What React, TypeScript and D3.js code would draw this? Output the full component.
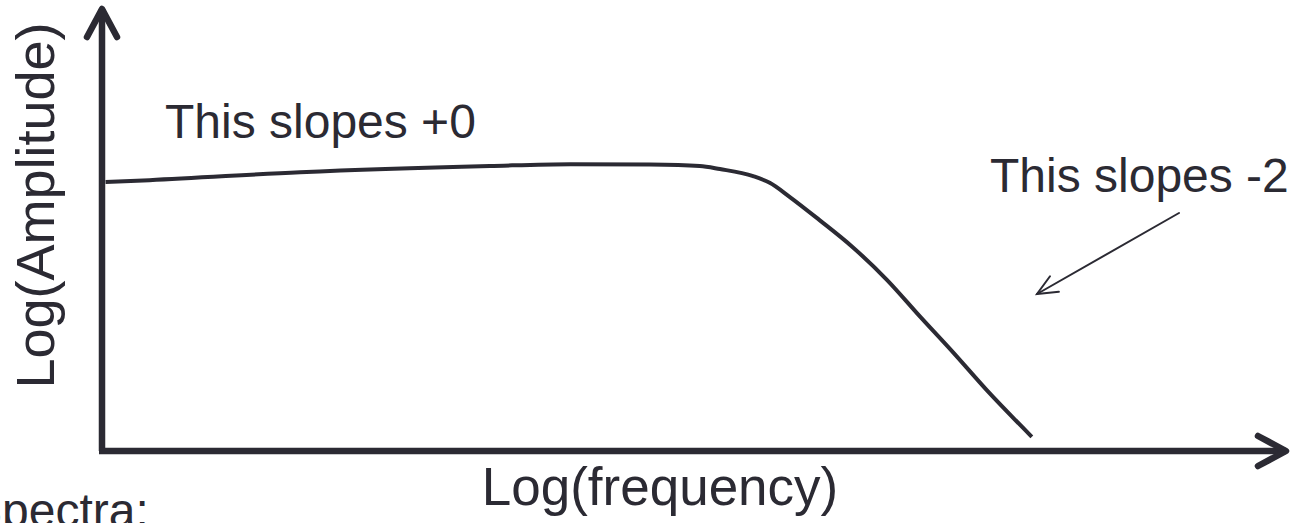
import React from 'react';
import * as d3 from 'd3';

const width = 1300;
const height = 523;
const ink = '#2b2a33';
const font = 'Liberation Sans, Arial, sans-serif';

// spectrum sketch, in log units (x: log frequency, y: log amplitude)
const logFreq = [0.03, 0.4, 1.67, 3.27, 3.95, 4.62, 5.04, 5.21, 5.49, 5.63, 5.8, 6.05, 6.33, 6.62, 6.9, 7.18, 7.46, 7.84];
const logAmp = [6.06, 6.1, 6.28, 6.42, 6.46, 6.45, 6.42, 6.35, 6.19, 6.04, 5.72, 5.2, 4.59, 3.85, 3.02, 2.21, 1.37, 0.32];

const xLabel = 'Log(frequency)';
const yLabel = 'Log(Amplitude)';
const flatNote = 'This slopes +0';
const steepNote = 'This slopes -2';
const cutNote = 'Spectra:';

const xScale = d3.scaleLinear().domain([0, 10]).range([102, 1288]);
const yScale = d3.scaleLinear().domain([0, 10]).range([451, 7]);

const line = d3
  .line<number>()
  .x((d, i) => xScale(logFreq[i]))
  .y(d => yScale(d))
  .curve(d3.curveMonotoneX);

export default function App() {
  const x0 = xScale(0);
  const y0 = yScale(0);
  const xEnd = xScale(10);
  const yEnd = yScale(10);

  // note arrow pointing at the steep part
  const ax1 = 1179, ay1 = 213, ax2 = 1037, ay2 = 294;
  const ang = Math.atan2(ay1 - ay2, ax1 - ax2);
  const head = 22;
  const spread = 0.42;

  return (
    <div style={{ position: 'fixed', left: 0, top: 0 }}>
      <svg width={width} height={height} style={{ display: 'block', background: '#fff' }}>
        {/* axes */}
        <g stroke={ink} strokeWidth={6.5} fill="none" strokeLinecap="round" strokeLinejoin="round">
          <path d={`M${x0},${y0}L${x0},${yEnd + 2}`} strokeLinecap="butt" />
          <path d={`M${x0 - 3},${y0}L${xEnd - 2},${y0}`} strokeLinecap="butt" />
          <path d={`M${x0 - 15},${yEnd + 30}L${x0},${yEnd + 2}L${x0 + 15},${yEnd + 30}`} />
          <path d={`M${xEnd - 30},${y0 - 15}L${xEnd - 2},${y0}L${xEnd - 30},${y0 + 15}`} />
        </g>

        {/* spectrum */}
        <path d={line(logAmp) || ''} fill="none" stroke={ink} strokeWidth={4} strokeLinecap="butt" />

        {/* annotation arrow */}
        <g stroke={ink} strokeWidth={2} fill="none" strokeLinecap="round">
          <path d={`M${ax1},${ay1}L${ax2},${ay2}`} />
          <path
            d={`M${ax2 + head * Math.cos(ang - spread)},${ay2 + head * Math.sin(ang - spread)}L${ax2},${ay2}L${ax2 + head * Math.cos(ang + spread)},${ay2 + head * Math.sin(ang + spread)}`}
          />
        </g>

        <g fill={ink} fontFamily={font}>
          <text x={165} y={138} fontSize={48}>{flatNote}</text>
          <text x={990} y={192} fontSize={48}>{steepNote}</text>
          <text x={660} y={505} fontSize={53} textAnchor="middle">{xLabel}</text>
          <text transform="translate(54,205.5) rotate(-90)" fontSize={54} textAnchor="middle">{yLabel}</text>
          <text x={-30} y={527} fontSize={48}>{cutNote}</text>
        </g>
      </svg>
    </div>
  );
}
